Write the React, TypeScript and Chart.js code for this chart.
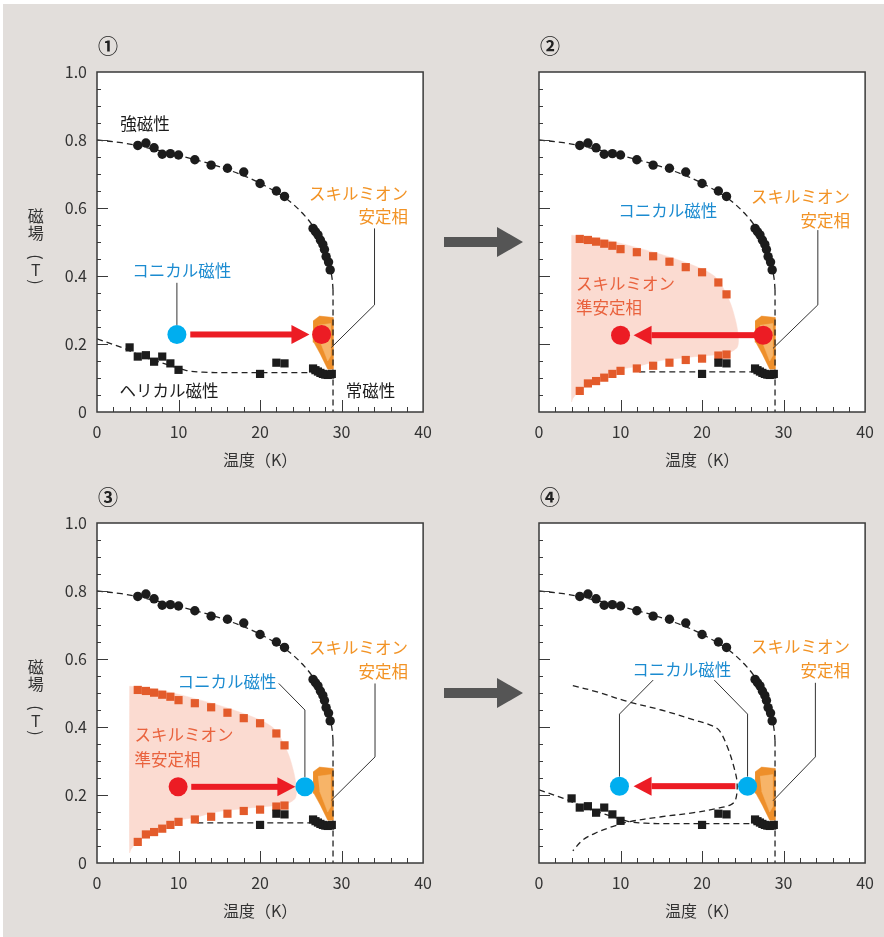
import React, { useEffect, useRef } from 'react';
import { Chart, registerables } from 'chart.js';

Chart.register(...registerables);

const FONT = '"Noto Sans CJK JP", "Noto Sans", sans-serif';

// ---------- data (temperature K, field T) ----------
const ferroT = [5, 6, 7, 8, 9, 10, 12, 14, 16, 18, 20, 22, 23, 26.5, 26.8, 27.1, 27.4, 27.7, 27.9, 28.1, 28.4, 28.6];
const ferroB = [0.784, 0.791, 0.777, 0.758, 0.76, 0.756, 0.742, 0.726, 0.717, 0.706, 0.672, 0.65, 0.634, 0.54, 0.53, 0.521, 0.506, 0.493, 0.478, 0.457, 0.441, 0.418];

const helixT = [4, 5, 6, 7, 8, 9, 10, 20, 22, 23, 26.5, 26.8, 27.1, 27.4, 27.7, 28.0, 28.3, 28.6, 28.8];
const helixB = [0.19, 0.163, 0.167, 0.148, 0.163, 0.143, 0.124, 0.112, 0.145, 0.143, 0.128, 0.123, 0.119, 0.115, 0.112, 0.11, 0.109, 0.11, 0.112];

const metaT = [5, 6, 7, 8, 9, 10, 12, 14, 16, 18, 20, 22, 23];
const metaUpperB = [0.509, 0.506, 0.501, 0.495, 0.489, 0.479, 0.47, 0.458, 0.442, 0.426, 0.411, 0.381, 0.346];
const metaLowerB = [0.062, 0.084, 0.091, 0.101, 0.112, 0.121, 0.128, 0.136, 0.145, 0.153, 0.157, 0.166, 0.169];

const ferroLineT = [0, 3, 6, 10, 14, 18, 21, 23.5, 25.5, 26.8, 27.8, 28.5, 28.85, 28.95];
const ferroLineB = [0.8, 0.792, 0.778, 0.755, 0.729, 0.695, 0.66, 0.622, 0.577, 0.535, 0.49, 0.435, 0.39, 0.36];
const vertLineT = [28.95, 28.95];
const vertLineB = [0.36, 0];

const helixLineT = [0, 3, 6, 9, 11, 13, 16, 28.7];
const helixLineB = [0.215, 0.19, 0.16, 0.137, 0.122, 0.117, 0.116, 0.116];
const helixPartT = [12.3, 28.7];
const helixPartB = [0.118, 0.118];

const loopT = [4.15, 7, 11, 15, 19, 21.1, 22.1, 23.1, 23.9, 24.3, 24.1, 23.5, 21.9, 19, 15, 11, 9, 7, 5.4, 4.15];
const loopB = [0.522, 0.504, 0.474, 0.45, 0.421, 0.405, 0.39, 0.342, 0.283, 0.234, 0.185, 0.171, 0.161, 0.148, 0.136, 0.121, 0.107, 0.089, 0.068, 0.036];

const shadeT = [4.0, 7, 11, 17, 21.5, 23.3, 24.1, 24.45, 24.3, 23.1, 20, 16, 14.2, 12.2, 9.8, 7.2, 5.4, 4.15, 4.0, 4.0];
const shadeB = [0.52, 0.512, 0.49, 0.448, 0.4, 0.33, 0.27, 0.22, 0.19, 0.173, 0.165, 0.155, 0.148, 0.135, 0.124, 0.099, 0.074, 0.04, 0.03, 0.52];

const stableT = [26.5, 27.3, 28.96, 28.96, 28.3, 27.4, 26.6, 26.5];
const stableB = [0.268, 0.282, 0.278, 0.126, 0.126, 0.17, 0.205, 0.24];
const stableInT = [27.1, 28.65, 28.65, 28.3, 27.3];
const stableInB = [0.255, 0.26, 0.165, 0.15, 0.212];

const xTickValues = [0, 10, 20, 30, 40];
const yTickValues = [0, 0.2, 0.4, 0.6, 0.8, 1.0];

// ---------- colours ----------
const BLACK = '#1c1c1c';
const BLUE_TXT = '#1b8bd0';
const ORANGE_TXT = '#f29325';
const META_TXT = '#e9623d';
const RED = '#ec1c24';
const CYAN = '#00aeef';

type Label = { text: string; x: number; y: number; color: string; align: CanvasTextAlign };
type Panel = {
  num: string; left: number; top: number; showY: boolean;
  helix: 'all' | 'high'; meta: boolean; loop: boolean;
  circles: { x: number; y: number; color: string }[];
  arrow: { from: number; to: number; y: number };
  leaders: number[][][];
  labels: Label[];
};

const stableLabels = (y1: number, y2: number): Label[] => [
  { text: 'スキルミオン', x: 38.15, y: y1, color: ORANGE_TXT, align: 'right' },
  { text: '安定相', x: 38.15, y: y2, color: ORANGE_TXT, align: 'right' },
];
const metaLabels = (x: number, y1: number, y2: number): Label[] => [
  { text: 'スキルミオン', x, y: y1, color: META_TXT, align: 'left' },
  { text: '準安定相', x, y: y2, color: META_TXT, align: 'left' },
];

const panels: Panel[] = [
  {
    num: '①', left: 0, top: 0, showY: true, helix: 'all', meta: false, loop: false,
    circles: [{ x: 9.8, y: 0.228, color: CYAN }, { x: 27.55, y: 0.228, color: RED }],
    arrow: { from: 11.44, to: 26.06, y: 0.228 },
    leaders: [[[9.8, 0.38], [9.8, 0.256]], [[34.04, 0.54], [34.04, 0.315], [28.76, 0.19]]],
    labels: [
      { text: '強磁性', x: 5.9, y: 0.847, color: BLACK, align: 'center' },
      { text: 'コニカル磁性', x: 10.4, y: 0.415, color: BLUE_TXT, align: 'center' },
      { text: 'ヘリカル磁性', x: 8.82, y: 0.063, color: BLACK, align: 'center' },
      { text: '常磁性', x: 33.55, y: 0.063, color: BLACK, align: 'center' },
      ...stableLabels(0.641, 0.573),
    ],
  },
  {
    num: '②', left: 442, top: 0, showY: false, helix: 'high', meta: true, loop: false,
    circles: [{ x: 10, y: 0.226, color: RED }, { x: 27.5, y: 0.226, color: RED }],
    arrow: { from: 26.43, to: 11.6, y: 0.226 },
    leaders: [[[34.2, 0.535], [34.2, 0.315], [28.7, 0.187]]],
    labels: [
      { text: 'コニカル磁性', x: 15.8, y: 0.592, color: BLUE_TXT, align: 'center' },
      ...metaLabels(4.55, 0.378, 0.307),
      ...stableLabels(0.633, 0.562),
    ],
  },
  {
    num: '③', left: 0, top: 451, showY: true, helix: 'high', meta: true, loop: false,
    circles: [{ x: 9.95, y: 0.224, color: RED }, { x: 25.5, y: 0.224, color: CYAN }],
    arrow: { from: 11.56, to: 24.33, y: 0.224 },
    leaders: [[[22.3, 0.528], [25.5, 0.45], [25.5, 0.253]], [[34.1, 0.528], [34.1, 0.312], [28.76, 0.185]]],
    labels: [
      { text: 'コニカル磁性', x: 15.95, y: 0.533, color: BLUE_TXT, align: 'center' },
      ...metaLabels(4.6, 0.376, 0.305),
      ...stableLabels(0.634, 0.563),
    ],
  },
  {
    num: '④', left: 442, top: 451, showY: false, helix: 'all', meta: false, loop: true,
    circles: [{ x: 9.87, y: 0.226, color: CYAN }, { x: 25.58, y: 0.226, color: CYAN }],
    arrow: { from: 23.96, to: 11.6, y: 0.226 },
    leaders: [
      [[14.0, 0.538], [9.87, 0.438], [9.87, 0.254]],
      [[21.5, 0.538], [25.58, 0.438], [25.58, 0.254]],
      [[33.9, 0.53], [33.9, 0.312], [28.7, 0.183]],
    ],
    labels: [
      { text: 'コニカル磁性', x: 17.52, y: 0.568, color: BLUE_TXT, align: 'center' },
      ...stableLabels(0.636, 0.565),
    ],
  },
];

const pts = (xs: number[], ys: number[]) => xs.map((x, i) => ({ x, y: ys[i] }));

function buildDatasets(p: Panel) {
  const ds: any[] = [];
  const line = (data: any[], extra: any = {}) => ({
    data, showLine: true, borderColor: '#222', borderWidth: 1.3, borderDash: [6, 4],
    pointRadius: 0, fill: false, tension: 0.35, order: 5, ...extra,
  });
  const shape = (data: any[], color: string, order: number, tension = 0) => ({
    data, showLine: true, borderWidth: 0.5, borderColor: color, backgroundColor: color,
    fill: 'shape', pointRadius: 0, tension, order,
  });
  if (p.meta) ds.push(shape(pts(shadeT, shadeB), '#fbdbd1', 10, 0.3));
  ds.push(shape(pts(stableT, stableB), '#ee8f2a', 8));
  ds.push(shape(pts(stableInT, stableInB), '#f7b468', 7));
  ds.push(line(pts(ferroLineT, ferroLineB)));
  ds.push(line(pts(vertLineT, vertLineB), { tension: 0 }));
  if (p.helix === 'all') ds.push(line(pts(helixLineT, helixLineB)));
  else ds.push(line(pts(helixPartT, helixPartB), { tension: 0 }));
  if (p.loop) ds.push(line(pts(loopT, loopB)));
  ds.push({
    data: pts(ferroT, ferroB), showLine: false, pointStyle: 'circle', pointRadius: 4.7,
    pointBackgroundColor: BLACK, pointBorderWidth: 0, order: 1,
  });
  const hIdx = helixT.map((t, i) => (p.helix === 'all' || t >= 20 ? i : -1)).filter((i) => i >= 0);
  ds.push({
    data: hIdx.map((i) => ({ x: helixT[i], y: helixB[i] })), showLine: false, pointStyle: 'rect',
    pointRadius: 5.8, pointBackgroundColor: BLACK, pointBorderWidth: 0, order: 2,
  });
  if (p.meta) {
    [metaUpperB, metaLowerB].forEach((b) =>
      ds.push({
        data: pts(metaT, b), showLine: false, pointStyle: 'rect', pointRadius: 5.8,
        pointBackgroundColor: '#e35b2b', pointBorderWidth: 0, order: 2,
      })
    );
  }
  return ds;
}

function decorPlugin(p: Panel) {
  return {
    id: 'decor',
    beforeDraw(chart: any) {
      const { ctx, chartArea: a } = chart;
      ctx.save();
      ctx.fillStyle = '#ffffff';
      ctx.fillRect(a.left, a.top, a.right - a.left, a.bottom - a.top);
      ctx.restore();
    },
    afterDatasetsDraw(chart: any) {
      const { ctx } = chart;
      const X = (v: number) => chart.scales.x.getPixelForValue(v);
      const Y = (v: number) => chart.scales.y.getPixelForValue(v);
      ctx.save();
      ctx.strokeStyle = '#333';
      ctx.lineWidth = 1;
      p.leaders.forEach((pl) => {
        ctx.beginPath();
        pl.forEach(([x, y], i) => (i ? ctx.lineTo(X(x), Y(y)) : ctx.moveTo(X(x), Y(y))));
        ctx.stroke();
      });
      const a = p.arrow;
      const sgn = a.to > a.from ? 1 : -1;
      const tip = X(a.to);
      const yy = Y(a.y);
      const headL = 18;
      const headW = 9.5;
      ctx.fillStyle = RED;
      ctx.fillRect(Math.min(X(a.from), tip - sgn * headL), yy - 3, Math.abs(tip - sgn * headL - X(a.from)) + 1, 6);
      ctx.beginPath();
      ctx.moveTo(tip, yy);
      ctx.lineTo(tip - sgn * headL, yy - headW);
      ctx.lineTo(tip - sgn * headL, yy + headW);
      ctx.closePath();
      ctx.fill();
      p.circles.forEach((c) => {
        ctx.fillStyle = c.color;
        ctx.beginPath();
        ctx.arc(X(c.x), Y(c.y), 9.5, 0, Math.PI * 2);
        ctx.fill();
      });
      ctx.font = `16.5px ${FONT}`;
      ctx.textBaseline = 'middle';
      p.labels.forEach((l) => {
        ctx.fillStyle = l.color;
        ctx.textAlign = l.align;
        ctx.fillText(l.text, X(l.x), Y(l.y));
      });
      ctx.restore();
    },
    afterDraw(chart: any) {
      const { ctx, chartArea: a } = chart;
      const X = (v: number) => chart.scales.x.getPixelForValue(v);
      const Y = (v: number) => chart.scales.y.getPixelForValue(v);
      ctx.save();
      ctx.strokeStyle = '#3a3a3a';
      ctx.lineWidth = 1;
      ctx.beginPath();
      for (let k = 1; k < 20; k++) {
        const yv = Y(k * 0.05);
        const len = k % 4 === 0 ? 11 : 4;
        ctx.moveTo(a.left, Math.round(yv) + 0.5);
        ctx.lineTo(a.left + len, Math.round(yv) + 0.5);
        const xv = X(k * 2);
        const lx = (k * 2) % 10 === 0 ? 12 : 5;
        ctx.moveTo(Math.round(xv) + 0.5, a.bottom);
        ctx.lineTo(Math.round(xv) + 0.5, a.bottom - lx);
      }
      ctx.stroke();
      ctx.lineWidth = 1.5;
      ctx.strokeRect(a.left, a.top, a.right - a.left, a.bottom - a.top);
      ctx.fillStyle = '#333';
      ctx.textAlign = 'center';
      ctx.textBaseline = 'middle';
      ctx.font = `16px ${FONT}`;
      ctx.fillText('温度（K）', (a.left + a.right) / 2, a.bottom + 48);
      if (p.showY) {
        const cx = 35.7;
        ctx.fillText('磁', cx, 216);
        ctx.fillText('場', cx, 233);
        const paren = (ch: string, y: number) => {
          ctx.save();
          ctx.translate(cx, y);
          ctx.rotate(Math.PI / 2);
          ctx.fillText(ch, 0, 0);
          ctx.restore();
        };
        paren('(', 257);
        ctx.fillText('T', cx, 270);
        paren(')', 282);
      }
      ctx.fillStyle = '#222';
      ctx.font = `bold 20px ${FONT}`;
      ctx.fillText(p.num, 108, 46);
      ctx.restore();
    },
  };
}

function PanelChart({ p }: { p: Panel }) {
  const ref = useRef<HTMLCanvasElement>(null);
  useEffect(() => {
    const chart = new Chart(ref.current as HTMLCanvasElement, {
      type: 'line',
      data: { datasets: buildDatasets(p) },
      options: {
        animation: false,
        responsive: false,
        events: [],
        layout: { padding: { top: 72, right: 14, left: 0, bottom: 0 } },
        plugins: { legend: { display: false }, tooltip: { enabled: false } },
        scales: {
          x: {
            type: 'linear', min: 0, max: 40,
            grid: { display: false, drawTicks: false },
            border: { display: false },
            afterBuildTicks: (s: any) => { s.ticks = xTickValues.map((v) => ({ value: v })); },
            ticks: { color: '#333', font: { family: FONT, size: 16 }, padding: 10, maxRotation: 0, autoSkip: false },
            afterFit: (s: any) => { s.height = 68; },
          },
          y: {
            type: 'linear', min: 0, max: 1,
            grid: { display: false, drawTicks: false },
            border: { display: false },
            afterBuildTicks: (s: any) => { s.ticks = yTickValues.map((v) => ({ value: v })); },
            ticks: {
              display: p.showY, color: '#333', font: { family: FONT, size: 16 }, padding: 10,
              callback: (v: any) => (Number(v) === 0 ? '0' : Number(v).toFixed(1)),
            },
            afterFit: (s: any) => { s.width = 97; },
          },
        },
      } as any,
      plugins: [decorPlugin(p)],
    });
    return () => chart.destroy();
  }, [p]);
  return (
    <canvas
      ref={ref}
      width={442}
      height={480}
      style={{ position: 'absolute', left: p.left, top: p.top, width: 442, height: 480 }}
    />
  );
}

const bigArrow = (cy: number) =>
  `444,${cy - 5} 497,${cy - 5} 497,${cy - 15} 523,${cy} 497,${cy + 15} 497,${cy + 5} 444,${cy + 5}`;

export default function App() {
  return (
    <div style={{ position: 'absolute', left: 0, top: 0, width: 884, height: 937, background: '#ffffff', overflow: 'hidden' }}>
      <div style={{ position: 'absolute', left: 3, top: 4, width: 881, height: 933, background: '#e2dedb' }} />
      <svg width={884} height={937} style={{ position: 'absolute', left: 0, top: 0 }}>
        <polygon points={bigArrow(242)} fill="#555555" />
        <polygon points={bigArrow(693)} fill="#555555" />
      </svg>
      {panels.map((p) => (
        <PanelChart key={p.num} p={p} />
      ))}
    </div>
  );
}
